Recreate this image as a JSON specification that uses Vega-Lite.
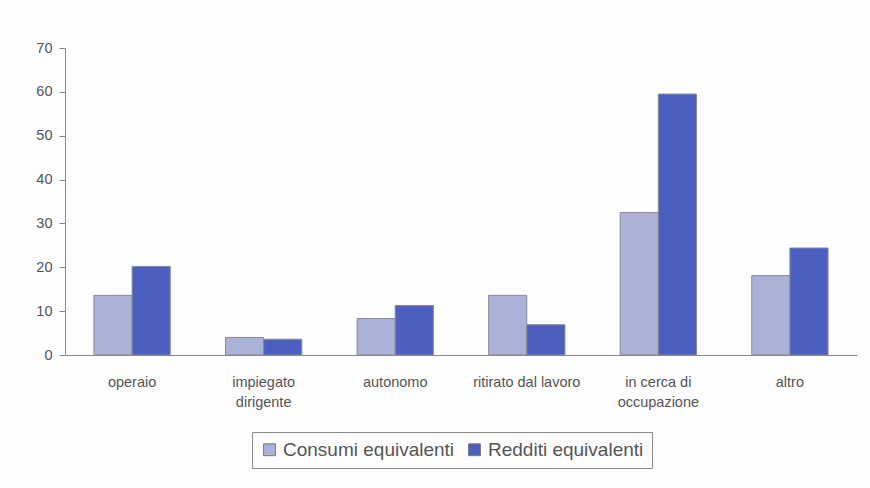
{
  "$schema": "https://vega.github.io/schema/vega-lite/v6.json",
  "width": 792,
  "height": 307,
  "autosize": {"type": "none"},
  "padding": {"left": 65, "top": 48, "right": 13, "bottom": 133},
  "background": "#fdfdfd",
  "data": {
    "values": [
      {"categoria": "operaio", "serie": "Consumi equivalenti", "valore": 13.6},
      {"categoria": "operaio", "serie": "Redditi equivalenti", "valore": 20.2},
      {"categoria": "impiegato dirigente", "serie": "Consumi equivalenti", "valore": 4.0},
      {"categoria": "impiegato dirigente", "serie": "Redditi equivalenti", "valore": 3.6},
      {"categoria": "autonomo", "serie": "Consumi equivalenti", "valore": 8.3},
      {"categoria": "autonomo", "serie": "Redditi equivalenti", "valore": 11.3},
      {"categoria": "ritirato dal lavoro", "serie": "Consumi equivalenti", "valore": 13.6},
      {"categoria": "ritirato dal lavoro", "serie": "Redditi equivalenti", "valore": 6.9},
      {"categoria": "in cerca di occupazione", "serie": "Consumi equivalenti", "valore": 32.5},
      {"categoria": "in cerca di occupazione", "serie": "Redditi equivalenti", "valore": 59.5},
      {"categoria": "altro", "serie": "Consumi equivalenti", "valore": 18.1},
      {"categoria": "altro", "serie": "Redditi equivalenti", "valore": 24.4}
    ]
  },
  "mark": {"type": "bar", "stroke": "#8a8a96", "strokeWidth": 1},
  "encoding": {
    "x": {
      "field": "categoria",
      "type": "nominal",
      "sort": null,
      "scale": {"paddingInner": 0.42, "paddingOuter": 0.22},
      "axis": {
        "title": null,
        "labelAngle": 0,
        "ticks": false,
        "domainColor": "#888888",
        "labelColor": "#555555",
        "labelFont": "Liberation Sans",
        "labelFontSize": 14.5,
        "labelPadding": 20,
        "labelLineHeight": 20,
        "labelExpr": "datum.value == 'impiegato dirigente' ? ['impiegato', 'dirigente'] : datum.value == 'in cerca di occupazione' ? ['in cerca di', 'occupazione'] : datum.value"
      }
    },
    "xOffset": {"field": "serie", "type": "nominal", "scale": {"paddingInner": 0}},
    "y": {
      "field": "valore",
      "type": "quantitative",
      "scale": {"domain": [0, 70], "nice": false},
      "axis": {
        "title": null,
        "values": [0, 10, 20, 30, 40, 50, 60, 70],
        "grid": false,
        "tickSize": 6,
        "tickColor": "#888888",
        "domainColor": "#888888",
        "labelColor": "#555555",
        "labelFont": "Liberation Sans",
        "labelFontSize": 14.5,
        "labelPadding": 7
      }
    },
    "color": {
      "field": "serie",
      "type": "nominal",
      "scale": {"range": ["#aab2d8", "#4b5fc0"]},
      "legend": {
        "title": null,
        "orient": "none",
        "direction": "horizontal",
        "legendX": 187,
        "legendY": 384,
        "strokeColor": "#8a8a8a",
        "padding": 8,
        "symbolType": "square",
        "symbolSize": 140,
        "symbolStrokeColor": "#777777",
        "symbolStrokeWidth": 1,
        "labelFont": "Liberation Sans",
        "labelFontSize": 19,
        "labelLimit": 400,
        "labelColor": "#555555",
        "labelOffset": 4,
        "columnPadding": 10
      }
    }
  },
  "config": {"view": {"stroke": null}}
}
